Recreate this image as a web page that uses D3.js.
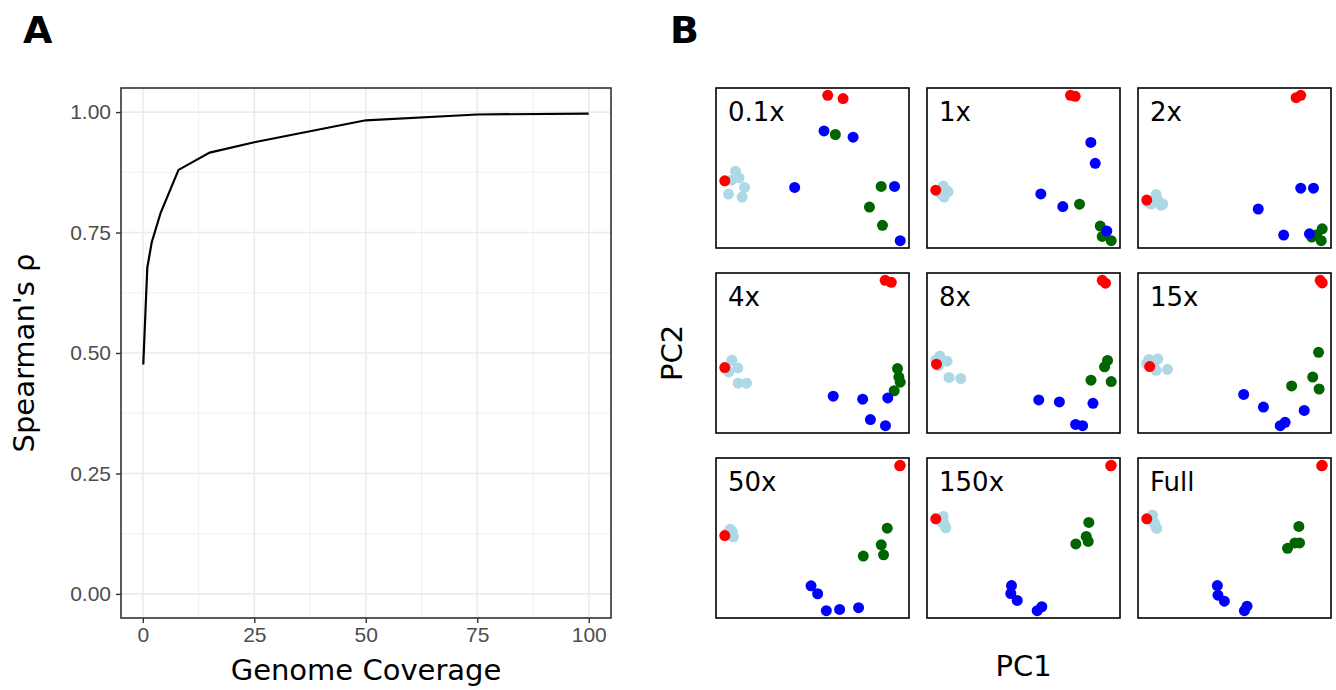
<!DOCTYPE html>
<html>
<head>
<meta charset="utf-8">
<script src="https://cdn.jsdelivr.net/npm/d3@7"></script>
<style>
  html, body { margin: 0; padding: 0; background: #fff; }
  svg { display: block; }
</style>
</head>
<body>
<div id="chart"></div>
<script>
// Panel A: Spearman's rho vs genome coverage
const coverage = [0.1, 1, 2, 4, 8, 15, 25, 50, 75, 100];
const rho = [0.476, 0.677, 0.73, 0.791, 0.880, 0.916, 0.9375, 0.983, 0.995, 0.997];
const xTicksA = [0, 25, 50, 75, 100];
const yTicksA = [0, 0.25, 0.5, 0.75, 1];

// Panel B: PCA per coverage level, points as [PC1, PC2, group]
const facetLabels = ["0.1x", "1x", "2x", "4x", "8x", "15x", "50x", "150x", "Full"];
const groupNames = ["lightblue", "darkgreen", "blue", "red"];
const groupColors = ["#ADD8E6", "#006400", "#0000FF", "#FF0000"];

const pca_0_1x = [
  [19.7,77,0],[23.3,70.3,0],[28.7,60.7,0],[12.7,54,0],[26.3,51,0],[15.7,68,0],
  [119.3,113.7,1],[165,61.7,1],[153.3,41,1],[166.3,22.7,1],
  [108,117.3,2],[137,111,2],[78.7,60.7,2],[178.3,61.7,2],[184,7.3,2],
  [111.7,153,3],[127,149.7,3],[9,67.3,3]
];
const pca_1x = [
  [14.7,62,0],[19.7,56.3,0],[15.7,50.7,0],[11.3,54.7,0],[17,58,0],[13,57,0],
  [151,43.7,1],[171.7,21.7,1],[173.7,11.3,1],[182.7,7,1],
  [162.3,105.7,2],[166.7,84.7,2],[112.3,54,2],[134.3,41.3,2],[178.3,16.7,2],
  [142,153,3],[146.7,152,3],[7.3,57.7,3]
];
const pca_2x = [
  [18.3,53.7,0],[23.3,42.7,0],[13.3,44,0],[10,46,0],[25,44,0],[20,48,0],
  [183.7,19,1],[173.3,10.7,1],[182.7,7,1],[178.3,13,1],
  [162.3,60,2],[175,60,2],[120,39,2],[145.3,12.7,2],[171,14,2],
  [157.7,151.3,3],[162.3,153.7,3],[9,48,3]
];
const pca_4x = [
  [17,71.3,0],[23,63.7,0],[14,59.7,0],[23.3,48.7,0],[31.7,48.7,0],[11.3,63,0],
  [182,63,1],[183.3,54.7,1],[184.7,49.7,1],[178.7,41.3,1],
  [118,36,2],[147.3,33,2],[172.3,34.3,2],[155,13,2],[170,7,2],
  [169.7,149.6,3],[175.8,147.6,3],[10,64,3]
];
const pca_8x = [
  [12,75.3,0],[19.3,70.3,0],[10.7,65.7,0],[21.3,54.3,0],[33,53.3,0],[8,71.3,0],
  [180.3,71,1],[177.3,64.7,1],[163.7,51.7,1],[184,50.3,1],
  [111.3,32.3,2],[132,30.3,2],[165.7,29,2],[148.3,8.3,2],[155.3,7,2],
  [175,149.6,3],[178.3,146.8,3],[8.7,67.3,3]
];
const pca_15x = [
  [8.3,72,0],[17.3,72.3,0],[15.7,61.3,0],[27.3,62.3,0],[6,68,0],[13.3,68,0],
  [182.7,79,1],[176.7,54.7,1],[183.3,43,1],[155,46,1],
  [105.7,37.7,2],[126,25.3,2],[168,22,2],[148.3,10.3,2],[143.3,7,2],
  [184.4,149.6,3],[186.5,147,3],[9,65,3]
];
const pca_50x = [
  [13.7,88.7,0],[17,81,0],[12.3,83,0],[15.7,86.3,0],[10.7,84.7,0],[14.7,82,0],
  [171,89.7,1],[165,73,1],[167.3,63,1],[147,61.7,1],
  [94.7,32,2],[101.3,24,2],[110,7,2],[123.3,8.3,2],[142.3,10,2],
  [184,152.7,3],[183.5,152.2,3],[8.3,82.3,3]
];
const pca_150x = [
  [15.7,101.3,0],[18.3,90,0],[13,96.3,0],[16.3,94.7,0],[14.7,98,0],[17.3,92,0],
  [161.3,95.3,1],[158.7,81.3,1],[160.7,76.3,1],[148.3,73.7,1],
  [84,32,2],[83.3,24,2],[89.7,17,2],[109.7,6.7,2],[114.3,10.7,2],
  [183.7,152.7,3],[183.2,152.2,3],[8.3,99,3]
];
const pca_full = [
  [14,102.7,0],[18.3,89.3,0],[11.7,98,0],[16,94.7,0],[13.3,99.7,0],[16.7,92,0],
  [160,91.3,1],[156,74.7,1],[160.7,74.7,1],[148.7,69.3,1],
  [78.7,32,2],[79.3,22.3,2],[85.7,16.3,2],[105.7,6.7,2],[108.3,11.3,2],
  [183.3,152.7,3],[182.8,152.2,3],[8.3,99,3]
];
const facetData = [pca_0_1x, pca_1x, pca_2x, pca_4x, pca_8x, pca_15x, pca_50x, pca_150x, pca_full];

const W = 1336, H = 690;
const svg = d3.select("#chart").append("svg")
  .attr("width", W).attr("height", H);

const sansTitle = "'DejaVu Sans', sans-serif";
const sansTick = "'Liberation Sans', Arial, sans-serif";

// ---------- Panel A ----------
const A = { left: 121, right: 611, top: 88, bottom: 618 };
const xPad = (d3.max(coverage) - d3.min(coverage)) * 0.05;
const x = d3.scaleLinear()
  .domain([d3.min(coverage) - xPad, d3.max(coverage) + xPad])
  .range([A.left, A.right]);
const y = d3.scaleLinear().domain([-0.05, 1.05]).range([A.bottom, A.top]);

const gA = svg.append("g");
gA.append("rect")
  .attr("x", A.left).attr("y", A.top)
  .attr("width", A.right - A.left).attr("height", A.bottom - A.top)
  .attr("fill", "#fff");

// minor grid
const xMinor = d3.range(12.5, 100, 25);
const yMinor = d3.range(0.125, 1, 0.25);
gA.selectAll(".xminor").data(xMinor).join("line")
  .attr("x1", d => x(d)).attr("x2", d => x(d))
  .attr("y1", A.top).attr("y2", A.bottom)
  .attr("stroke", "#EBEBEB").attr("stroke-width", 0.8);
gA.selectAll(".yminor").data(yMinor).join("line")
  .attr("y1", d => y(d)).attr("y2", d => y(d))
  .attr("x1", A.left).attr("x2", A.right)
  .attr("stroke", "#EBEBEB").attr("stroke-width", 0.8);
// major grid
gA.selectAll(".xmajor").data(xTicksA).join("line")
  .attr("x1", d => x(d)).attr("x2", d => x(d))
  .attr("y1", A.top).attr("y2", A.bottom)
  .attr("stroke", "#EBEBEB").attr("stroke-width", 1.6);
gA.selectAll(".ymajor").data(yTicksA).join("line")
  .attr("y1", d => y(d)).attr("y2", d => y(d))
  .attr("x1", A.left).attr("x2", A.right)
  .attr("stroke", "#EBEBEB").attr("stroke-width", 1.6);

const line = d3.line().x((d, i) => x(coverage[i])).y(d => y(d));
gA.append("path")
  .datum(rho)
  .attr("d", line)
  .attr("fill", "none")
  .attr("stroke", "#000")
  .attr("stroke-width", 2.2);

gA.append("rect")
  .attr("x", A.left).attr("y", A.top)
  .attr("width", A.right - A.left).attr("height", A.bottom - A.top)
  .attr("fill", "none").attr("stroke", "#333333").attr("stroke-width", 1.6);

// axes
const xAxis = d3.axisBottom(x).tickValues(xTicksA).tickSize(5).tickPadding(4);
const yAxis = d3.axisLeft(y).tickValues(yTicksA).tickFormat(d3.format(".2f")).tickSize(5).tickPadding(5);
const gx = gA.append("g").attr("transform", `translate(0,${A.bottom})`).call(xAxis);
const gy = gA.append("g").attr("transform", `translate(${A.left},0)`).call(yAxis);
[gx, gy].forEach(g => {
  g.select(".domain").remove();
  g.selectAll(".tick line").attr("stroke", "#333333").attr("stroke-width", 1.4);
  g.selectAll(".tick text")
    .attr("fill", "#4D4D4D")
    .style("font-family", sansTick)
    .style("font-size", "21px");
});

gA.append("text")
  .attr("x", (A.left + A.right) / 2).attr("y", 680)
  .attr("text-anchor", "middle")
  .style("font-family", sansTitle).style("font-size", "29px")
  .text("Genome Coverage");
gA.append("text")
  .attr("transform", `translate(34,${(A.top + A.bottom) / 2}) rotate(-90)`)
  .attr("text-anchor", "middle")
  .style("font-family", sansTitle).style("font-size", "29px")
  .text("Spearman's ρ");

// ---------- Panel B ----------
const colX = [716, 927, 1138];
const rowY = [88, 273, 458];
const fw = 193, fh = 160;

facetData.forEach((pts, i) => {
  const fx = colX[i % 3], fy = rowY[Math.floor(i / 3)];
  const ex = d3.extent(pts, d => d[0]);
  const ey = d3.extent(pts, d => d[1]);
  const px = (ex[1] - ex[0]) * 0.05, py = (ey[1] - ey[0]) * 0.05;
  const sx = d3.scaleLinear().domain([ex[0] - px, ex[1] + px]).range([0, fw]);
  const sy = d3.scaleLinear().domain([ey[0] - py, ey[1] + py]).range([fh, 0]);

  const g = svg.append("g").attr("transform", `translate(${fx},${fy})`);
  g.append("rect").attr("width", fw).attr("height", fh).attr("fill", "#fff");

  const ordered = pts.slice().sort((a, b) => a[2] - b[2]);
  g.selectAll("circle").data(ordered).join("circle")
    .attr("cx", d => sx(d[0]))
    .attr("cy", d => sy(d[1]))
    .attr("r", 5.5)
    .attr("fill", d => groupColors[d[2]]);

  g.append("rect").attr("width", fw).attr("height", fh)
    .attr("fill", "none").attr("stroke", "#000").attr("stroke-width", 1.6);

  g.append("text")
    .attr("x", 12).attr("y", 33)
    .style("font-family", sansTitle).style("font-size", "26px")
    .text(facetLabels[i]);
});

svg.append("text")
  .attr("x", (colX[0] + colX[2] + fw) / 2).attr("y", 676)
  .attr("text-anchor", "middle")
  .style("font-family", sansTitle).style("font-size", "29px")
  .text("PC1");
svg.append("text")
  .attr("transform", `translate(682,${(rowY[0] + rowY[2] + fh) / 2}) rotate(-90)`)
  .attr("text-anchor", "middle")
  .style("font-family", sansTitle).style("font-size", "29px")
  .text("PC2");

// panel letters
svg.append("text").attr("x", 23).attr("y", 43)
  .style("font-family", sansTitle).style("font-weight", "bold").style("font-size", "38px")
  .text("A");
svg.append("text").attr("x", 670).attr("y", 43)
  .style("font-family", sansTitle).style("font-weight", "bold").style("font-size", "38px")
  .text("B");
</script>
</body>
</html>
